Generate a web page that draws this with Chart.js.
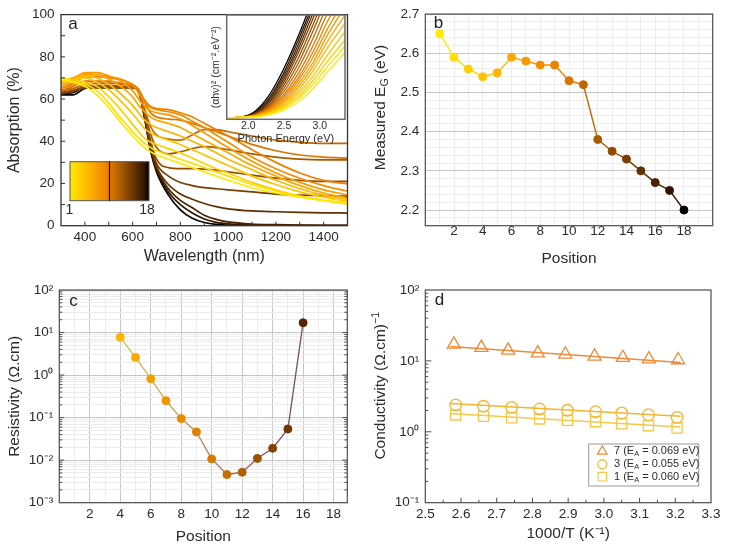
<!DOCTYPE html>
<html><head><meta charset="utf-8">
<script src="https://cdn.jsdelivr.net/npm/chart.js@4.4.1/dist/chart.umd.min.js"></script>
<style>
html,body{margin:0;padding:0;background:#fff;}
body{width:732px;height:551px;position:relative;overflow:hidden;}
.p{position:absolute;}
</style></head><body>
<div class="p" style="left:0;top:0;width:366px;height:275px"><canvas id="ca"></canvas></div>
<div class="p" style="left:205px;top:10px;width:145px;height:140px"><canvas id="ci"></canvas></div>
<div class="p" style="left:366px;top:0;width:366px;height:275px"><canvas id="cb"></canvas></div>
<div class="p" style="left:0;top:275px;width:366px;height:276px"><canvas id="cc"></canvas></div>
<div class="p" style="left:366px;top:275px;width:366px;height:276px"><canvas id="cd"></canvas></div>
<script>
// ---------------- data ----------------
const positions = [1,2,3,4,5,6,7,8,9,10,11,12,13,14,15,16,17,18];
const wavelengths = [300,350,400,450,500,550,600,625,650,675,700,750,800,850,900,950,1000,1100,1200,1300,1400,1500];
const absP1  = [70,68,66,62,56,49,42.5,39.5,37,35,33.5,31.5,29.5,27.5,25.5,23.5,21.5,18,15.5,13.5,12,11];
const absP2  = [69,68,67,64,58,51,44.5,41.5,39,37,35.5,33.5,31.5,29.5,27.5,25.5,23.5,19.5,16.5,14,12,10.2];
const absP3  = [70,69,68,66,61,55,48,44.5,41.5,39.5,38.5,36.5,34.5,32,29.5,27,25,20.5,17,14,12,10.6];
const absP4  = [68,69,70,68,64.5,59,53,49.5,46,44,42.5,40.5,38.5,36,33.5,31,28.5,23.5,19.5,16,13.5,11.6];
const absP5  = [68,70,71,70,67,62.5,57,53.5,50,48,46.5,44.5,42.5,40,37.5,34.5,31.5,26.5,21.5,17.5,14.5,12.6];
const absP6  = [67,70,72,71.5,69.5,66,61,57,54,51.5,50,48.5,46.5,43.5,40.5,37.5,34.5,28.5,23.5,19,15.5,13.2];
const absP7  = [66,69,72.5,72.5,71,68.5,64,60,56.5,54.5,53.5,52.5,50.5,47.5,44,40.5,37,30.5,25,20.5,17,14.6];
const absP8  = [65,68,71.5,71.5,70.5,69.5,66.5,63,58.5,56,55,54,52.5,49.5,46.5,43,39.5,32.5,27,22.5,19,16.3];
const absP9  = [65,67,70.5,70.5,70,69,67,64.5,59.5,56.5,55.5,55,53.5,51.5,48.5,45.5,42.5,36,30,25,21.5,19.8];
const absP10 = [64,66,68.5,68.5,68.5,67.5,66.5,64.5,58.5,53.5,51.5,50.5,50,48.5,46.5,44.5,42.5,38.5,35.5,33.5,32.5,32];
const absP11 = [64,65,67,67.5,67.5,67,66,63.5,55.5,47,43,41,40.5,43,45.5,45.5,44.5,42.5,40.5,39.5,39,39];
const absP12 = [64,65,66.5,66.5,66.5,66,65.5,63.5,54.5,43.5,37,34,35,36.5,37.5,37,36,34,32.5,31.5,31.2,31.2];
const absP13 = [63,64,65.5,65.5,65.5,65.5,65.5,63.5,53.5,40.5,31.5,27.5,27,27,26.8,26.3,25.5,24,22.5,21.5,21,21];
const absP14 = [63,64,65.5,65.5,65.5,65.5,65.5,63.5,53,39,29.5,23.5,20.5,19,18,17.5,17,16,15,14.5,14.2,14];
const absP15 = [63,64,65.5,65.5,65.5,65.5,65.5,63.5,52.5,38,28,19.5,15,12.5,10.5,9,8,7,6.6,6.3,6.1,6];
const absP16 = [62.5,63.5,65.5,65.5,65.5,65.5,65.5,63.5,52,37,27,17.5,12,8.5,5,3,1.8,0.8,0.5,0.3,0.2,0.2];
const absP17 = [62.5,63,65.5,65.5,65.5,65.5,65.5,64,51.5,36.5,26.5,16,10,6,3.2,1.6,0.9,0.4,0.2,0.1,0.1,0.1];
const absP18 = [62,62,65,65.5,65.5,65.5,65.5,64,51,35.5,25.5,14.5,7.5,3.5,1.5,0.6,0.3,0.1,0,0,0,0];
const absorptionSeries = [absP1,absP2,absP3,absP4,absP5,absP6,absP7,absP8,absP9,absP10,absP11,absP12,absP13,absP14,absP15,absP16,absP17,absP18];

const photonEnergy = [1.7,1.9,2.1,2.3,2.5,2.7,2.9,3.1,3.35];
const tP1  = [0.01,0.015,0.022,0.045,0.09,0.17,0.29,0.45,0.64];
const tP2  = [0.01,0.018,0.026,0.055,0.11,0.20,0.33,0.50,0.70];
const tP3  = [0.01,0.02,0.028,0.06,0.12,0.22,0.37,0.55,0.76];
const tP4  = [0.01,0.02,0.03,0.065,0.135,0.25,0.41,0.61,0.84];
const tP5  = [0.01,0.02,0.03,0.07,0.15,0.28,0.46,0.68,0.92];
const tP6  = [0.01,0.02,0.03,0.075,0.165,0.31,0.50,0.74,1.0];
const tP7  = [0.01,0.02,0.035,0.085,0.18,0.34,0.54,0.80,1.08];
const tP8  = [0.01,0.02,0.035,0.09,0.20,0.37,0.59,0.86,1.15];
const tP9  = [0.01,0.02,0.04,0.10,0.22,0.40,0.64,0.93,1.25];
const tP10 = [0.01,0.02,0.04,0.11,0.24,0.44,0.70,1.01,1.35];
const tP11 = [0.01,0.02,0.04,0.12,0.27,0.49,0.77,1.09,1.45];
const tP12 = [0.01,0.02,0.045,0.13,0.30,0.54,0.84,1.17,1.5];
const tP13 = [0.01,0.02,0.05,0.14,0.33,0.59,0.90,1.24,1.6];
const tP14 = [0.01,0.02,0.05,0.16,0.36,0.64,0.96,1.3,1.7];
const tP15 = [0.01,0.02,0.06,0.17,0.39,0.68,1.01,1.35,1.75];
const tP16 = [0.01,0.02,0.06,0.19,0.42,0.72,1.06,1.4,1.8];
const tP17 = [0.01,0.02,0.07,0.21,0.45,0.76,1.10,1.45,1.85];
const tP18 = [0.01,0.02,0.08,0.24,0.49,0.80,1.15,1.5,1.9];
const taucSeries = [tP1,tP2,tP3,tP4,tP5,tP6,tP7,tP8,tP9,tP10,tP11,tP12,tP13,tP14,tP15,tP16,tP17,tP18];

const measuredEg = [2.65,2.59,2.56,2.54,2.55,2.59,2.58,2.57,2.57,2.53,2.52,2.38,2.35,2.33,2.30,2.27,2.25,2.20];

const resistivityPositions = [4,5,6,7,8,9,10,11,12,13,14,15,16];
const resistivity = [7.8,2.6,0.82,0.25,0.095,0.046,0.0107,0.0046,0.0052,0.011,0.019,0.054,17];

const invTemp7  = [2.58,2.657,2.732,2.815,2.892,2.974,3.053,3.126,3.208];
const invTemp31 = [2.585,2.663,2.742,2.82,2.898,2.977,3.05,3.125,3.205];
const cond7 = [17.1,15.4,14.1,12.9,12.4,11.6,11.1,10.6,10.3];
const cond3 = [2.39,2.29,2.21,2.10,2.01,1.92,1.84,1.74,1.60];
const cond1 = [1.73,1.65,1.58,1.52,1.45,1.39,1.30,1.22,1.13];
const fitX = [2.57,3.215];
const fit7 = [15.9,9.5];
const fit3 = [2.50,1.66];
const fit1 = [1.81,1.17];
const legendSamples = ['7','3','1'];
const activationEnergies = ['0.069','0.055','0.060'];

// tick label lists
const wavelengthTicks = [400,600,800,1000,1200,1400];
const absorptionTicks = [0,20,40,60,80,100];
const insetTicks = [2.0,2.5,3.0];
const positionTicks = [2,4,6,8,10,12,14,16,18];
const egTicks = [2.2,2.3,2.4,2.5,2.6,2.7];
const resistivityTicks = [0.001,0.01,0.1,1,10,100];
const invTTicks = [2.5,2.6,2.7,2.8,2.9,3.0,3.1,3.2,3.3];
const condTicks = [0.1,1,10,100];

// ---------------- styles ----------------
const palette = ['#FFEA00','#FFDD00','#FFD000','#FFC300','#FFB600','#FDA800','#F99A00','#F38D00','#EC8000',
                 '#D87400','#C26800','#AA5A00','#924C00','#7A3E00','#613000','#4A2300','#311500','#000000'];
const resPointColors = ['#FFB400','#FAA800','#F59E00','#F09400','#EB8A00','#E48200','#D87800','#C66C00','#B26000','#9C5200','#864400','#6E3600','#562600'];
const resLineColors = ['#CFC24A','#C9B650','#C4A855','#BE9C58','#B8905A','#B0825C','#A8765E','#A06C60','#966262','#8C5A64','#825266','#744A66'];
const c7 = '#EE8A38', c3 = '#F5B431', c1 = '#F6C84A';

const FONT = "'Liberation Sans', Arial, Helvetica, sans-serif";
Chart.defaults.font.family = FONT;
Chart.defaults.color = '#2b2b2b';
Chart.defaults.animation = false;
Chart.defaults.responsive = true;
Chart.defaults.maintainAspectRatio = false;
Chart.defaults.devicePixelRatio = 1;
Chart.defaults.events = [];
Chart.defaults.plugins.legend.display = false;
Chart.defaults.plugins.tooltip.enabled = false;

// ---------------- helpers ----------------
function seq(a, b, step){ const out=[]; const n=Math.round((b-a)/step); for(let i=0;i<=n;i++) out.push(Math.round((a+i*step)*1e6)/1e6); return out; }
function logSeq(e0, e1){ const out=[]; for(let e=e0;e<e1;e++){ for(let m=1;m<10;m++) out.push(Number((m*Math.pow(10,e)).toPrecision(6))); } out.push(Math.pow(10,e1)); return out; }
const isIn = (v, arr) => arr.some(a => Math.abs(a - v) <= 1e-6 * Math.max(Math.abs(a), 1e-9));
const SUP = {'-':'\u207B','0':'\u2070','1':'\u00B9','2':'\u00B2','3':'\u00B3'};
function pow10Label(v){ const e = Math.round(Math.log10(v)); return '10' + String(e).split('').map(ch => SUP[ch]).join(''); }
function tickList(vals){ return s => { s.ticks = vals.map(v => ({value: v})); }; }

function richText(c, parts, x, y, size, rot, align){
  c.save(); c.translate(x, y); if (rot) c.rotate(-Math.PI/2);
  c.textBaseline = 'middle'; c.textAlign = 'left'; c.fillStyle = '#2b2b2b';
  let w = 0;
  parts.forEach(p => { c.font = (p[1] ? size*0.68 : size) + 'px ' + FONT; w += c.measureText(p[0]).width; });
  let cx = align === 'left' ? 0 : -w/2;
  parts.forEach(p => {
    const fs = p[1] ? size*0.68 : size;
    c.font = fs + 'px ' + FONT;
    const dy = p[1] === 'sub' ? size*0.28 : (p[1] === 'sup' ? -size*0.32 : 0);
    c.fillText(p[0], cx, dy);
    cx += c.measureText(p[0]).width;
  });
  c.restore();
}

function decor(o){
  return {
    id: 'decor',
    beforeDatasetsDraw(chart){
      if (!o.bg) return;
      const a = chart.chartArea, c = chart.ctx;
      c.save(); c.fillStyle = o.bg; c.fillRect(a.left, a.top, a.right-a.left, a.bottom-a.top); c.restore();
    },
    afterDraw(chart){
      const c = chart.ctx, a = chart.chartArea;
      c.save();
      c.strokeStyle = o.frame; c.lineWidth = 1;
      (o.inTicks || []).forEach(t => {
        const s = chart.scales[t.axis];
        s.ticks.forEach(tk => {
          const p = s.getPixelForValue(tk.value);
          const L = tk.label ? t.major : t.minor;
          if (!L) return;
          if (t.side === 'bottom' || t.side === 'top') { if (p <= a.left+1 || p >= a.right-1) return; }
          else { if (p <= a.top+1 || p >= a.bottom-1) return; }
          c.beginPath();
          if (t.side === 'bottom') { c.moveTo(p, a.bottom); c.lineTo(p, a.bottom - L); }
          else if (t.side === 'top') { c.moveTo(p, a.top); c.lineTo(p, a.top + L); }
          else if (t.side === 'left') { c.moveTo(a.left, p); c.lineTo(a.left + L, p); }
          else { c.moveTo(a.right, p); c.lineTo(a.right - L, p); }
          c.stroke();
        });
      });
      c.lineWidth = o.frameWidth; c.strokeStyle = o.frame;
      c.strokeRect(a.left, a.top, a.right-a.left, a.bottom-a.top);
      if (o.letter) {
        c.fillStyle = '#222'; c.font = '17px ' + FONT; c.textAlign = 'left'; c.textBaseline = 'middle';
        c.fillText(o.letter, a.left + o.ldx, a.top + o.ldy);
      }
      if (o.extra) o.extra(c, chart);
      c.restore();
    }
  };
}

const noGrid = {display:false, drawTicks:false};
const noBorder = {display:false};

// ---------------- panel a ----------------
new Chart(document.getElementById('ca'), {
  type: 'line',
  data: { datasets: absorptionSeries.map((arr, i) => ({
    label: 'Position ' + positions[i],
    data: wavelengths.map((w, j) => ({x: w, y: arr[j]})),
    borderColor: palette[i], borderWidth: 1.7, pointRadius: 0,
    cubicInterpolationMode: 'monotone', fill: false
  }))},
  options: {
    layout: {padding: {top: 13, right: 18.5, left: 0, bottom: 0}},
    scales: {
      x: {type: 'linear', min: 300, max: 1500, afterBuildTicks: tickList(seq(300,1500,100)),
          ticks: {autoSkip: false, maxRotation: 0, minRotation: 0, padding: 3, font: {size: 13.5},
                  callback: v => isIn(v, wavelengthTicks) ? String(v) : ''},
          grid: noGrid, border: noBorder,
          title: {display: true, text: 'Wavelength (nm)', font: {size: 16}, padding: {top: 0, bottom: 8.5}},
          afterFit: s => { s.height = 49.3; }},
      y: {type: 'linear', min: 0, max: 100, afterBuildTicks: tickList(seq(0,100,10)),
          ticks: {autoSkip: false, padding: 6.5, font: {size: 13.5},
                  callback: v => isIn(v, absorptionTicks) ? String(v) : ''},
          grid: noGrid, border: noBorder,
          title: {display: true, text: 'Absorption (%)', font: {size: 16}, padding: {top: 5.4, bottom: 0}},
          afterFit: s => { s.width = 61; }}
    }
  },
  plugins: [decor({frame: '#333', frameWidth: 1.3, letter: 'a', ldx: 7.3, ldy: 10,
    inTicks: [{axis: 'x', side: 'bottom', major: 4, minor: 4}, {axis: 'y', side: 'left', major: 4, minor: 4}],
    extra: (c) => {
      const x0 = 70, x1 = 149, y0 = 161.7, y1 = 200.7;
      const g = c.createLinearGradient(x0, 0, x1, 0);
      palette.forEach((col, i) => g.addColorStop(i / (palette.length - 1), col));
      c.fillStyle = g; c.fillRect(x0, y0, x1 - x0, y1 - y0);
      c.strokeStyle = '#555'; c.lineWidth = 1; c.strokeRect(x0, y0, x1 - x0, y1 - y0);
      c.strokeStyle = '#111'; c.lineWidth = 1.2;
      c.beginPath(); c.moveTo((x0 + x1) / 2, y0); c.lineTo((x0 + x1) / 2, y1); c.stroke();
      c.fillStyle = '#2b2b2b'; c.font = '14px ' + FONT; c.textBaseline = 'middle'; c.textAlign = 'center';
      c.fillText(String(positions[0]), 69.5, 210.5);
      c.fillText(String(positions[positions.length - 1]), 147, 210.5);
    }})]
});

// ---------------- inset ----------------
new Chart(document.getElementById('ci'), {
  type: 'line',
  data: { datasets: taucSeries.map((arr, i) => ({
    label: 'Position ' + positions[i],
    data: photonEnergy.map((e, j) => ({x: e, y: arr[j]})),
    borderColor: palette[i], borderWidth: 1.3, pointRadius: 0,
    cubicInterpolationMode: 'monotone', fill: false
  }))},
  options: {
    layout: {padding: {top: 5, right: 5, left: 0, bottom: 0}},
    scales: {
      x: {type: 'linear', min: 1.7, max: 3.35, afterBuildTicks: tickList(insetTicks),
          ticks: {autoSkip: false, maxRotation: 0, minRotation: 0, padding: 1, font: {size: 10.5},
                  callback: v => v.toFixed(1)},
          grid: noGrid, border: noBorder,
          title: {display: true, text: 'Photon Energy (eV)', font: {size: 11}, padding: {top: 0, bottom: 4.5}},
          afterFit: s => { s.height = 30.7; }},
      y: {type: 'linear', min: 0, max: 1, ticks: {display: false}, grid: noGrid, border: noBorder,
          title: {display: true, text: '(\u03B1h\u03BD)\u00B2 (cm\u207B\u00B2.eV\u207B\u00B2)', font: {size: 10.5}, padding: {top: 5, bottom: 0}},
          afterFit: s => { s.width = 21.7; }}
    }
  },
  plugins: [decor({frame: '#6a6a6a', frameWidth: 1.5, bg: '#ffffff'})]
});

// ---------------- panel b ----------------
new Chart(document.getElementById('cb'), {
  type: 'line',
  data: { datasets: [{
    label: 'Measured EG',
    data: positions.map((p, i) => ({x: p, y: measuredEg[i]})),
    borderWidth: 1.4, borderColor: palette[8],
    segment: {borderColor: ctx => palette[ctx.p0DataIndex]},
    pointRadius: 4, pointBackgroundColor: palette, pointBorderColor: palette, pointBorderWidth: 1, tension: 0
  }]},
  options: {
    layout: {padding: {top: 13.3, right: 19.3, left: 0, bottom: 0}},
    scales: {
      x: {type: 'linear', min: 0, max: 20, afterBuildTicks: tickList(seq(0,20,1)),
          ticks: {autoSkip: false, maxRotation: 0, minRotation: 0, padding: -3, font: {size: 13.5},
                  callback: v => isIn(v, positionTicks) ? String(v) : ''},
          grid: {color: '#ececec', drawTicks: false}, border: noBorder,
          title: {display: true, text: 'Position', font: {size: 15.5}, padding: {top: 0, bottom: 7.4}},
          afterFit: s => { s.height = 49.3; }},
      y: {type: 'linear', min: 2.16, max: 2.7, afterBuildTicks: tickList(seq(2.16,2.7,0.02)),
          ticks: {autoSkip: false, padding: 6, font: {size: 13.5},
                  callback: v => isIn(v, egTicks) ? v.toFixed(1) : ''},
          grid: {color: ctx => isIn(ctx.tick.value, egTicks) ? '#c6c6c6' : '#eeeeee', drawTicks: false}, border: noBorder,
          afterFit: s => { s.width = 59.3; }}
    }
  },
  plugins: [decor({frame: '#4d4d4d', frameWidth: 1.2, letter: 'b', ldx: 8.4, ldy: 9.5,
    extra: (c) => richText(c, [['Measured E'], ['G', 'sub'], [' (eV)']], 15, 107.5, 15.5, true)})]
});

// ---------------- panel c ----------------
new Chart(document.getElementById('cc'), {
  type: 'line',
  data: { datasets: [{
    label: 'Resistivity',
    data: resistivityPositions.map((p, i) => ({x: p, y: resistivity[i]})),
    borderWidth: 1.3, borderColor: resLineColors[0],
    segment: {borderColor: ctx => resLineColors[ctx.p0DataIndex]},
    pointRadius: 4, pointBackgroundColor: resPointColors, pointBorderColor: resPointColors, pointBorderWidth: 1, tension: 0
  }]},
  options: {
    layout: {padding: {top: 15, right: 18.7, left: 0, bottom: 0}},
    scales: {
      x: {type: 'linear', min: 0, max: 18.9, afterBuildTicks: tickList(seq(0,18,1)),
          ticks: {autoSkip: false, maxRotation: 0, minRotation: 0, padding: 3.2, font: {size: 13.5},
                  callback: v => isIn(v, positionTicks) ? String(v) : ''},
          grid: {color: ctx => isIn(ctx.tick.value, positionTicks) ? '#c6c6c6' : '#ececec', drawTicks: false}, border: noBorder,
          title: {display: true, text: 'Position', font: {size: 15.5}, padding: {top: 0, bottom: 5}},
          afterFit: s => { s.height = 48.3; }},
      y: {type: 'logarithmic', min: 0.001, max: 100, afterBuildTicks: tickList(logSeq(-3, 2)),
          ticks: {autoSkip: false, padding: 6, font: {size: 13.5},
                  callback: v => isIn(v, resistivityTicks) ? pow10Label(v) : ''},
          grid: {color: ctx => isIn(ctx.tick.value, resistivityTicks) ? '#c6c6c6' : '#ececec', drawTicks: false}, border: noBorder,
          title: {display: true, text: 'Resistivity (\u03A9.cm)', font: {size: 15.5}, padding: {top: 5.7, bottom: 0}},
          afterFit: s => { s.width = 59.3; }}
    }
  },
  plugins: [decor({frame: '#4d4d4d', frameWidth: 1.2, letter: 'c', ldx: 10, ldy: 11.7,
    inTicks: [{axis: 'y', side: 'right', major: 5, minor: 3}, {axis: 'y', side: 'left', major: 5, minor: 3}]})]
});

// ---------------- panel d ----------------
new Chart(document.getElementById('cd'), {
  type: 'line',
  data: { datasets: [
    {label: 'fit 7', data: fitX.map((x, i) => ({x, y: fit7[i]})), borderColor: c7, borderWidth: 1.5, pointRadius: 0},
    {label: 'fit 3', data: fitX.map((x, i) => ({x, y: fit3[i]})), borderColor: c3, borderWidth: 1.5, pointRadius: 0},
    {label: 'fit 1', data: fitX.map((x, i) => ({x, y: fit1[i]})), borderColor: c1, borderWidth: 1.5, pointRadius: 0},
    {label: '7', data: invTemp7.map((x, i) => ({x, y: cond7[i]})), showLine: false, pointStyle: 'triangle', pointRadius: 7.5,
     pointBorderColor: c7, pointBackgroundColor: 'rgba(0,0,0,0)', pointBorderWidth: 1.3},
    {label: '3', data: invTemp31.map((x, i) => ({x, y: cond3[i]})), showLine: false, pointStyle: 'circle', pointRadius: 5.8,
     pointBorderColor: c3, pointBackgroundColor: 'rgba(0,0,0,0)', pointBorderWidth: 1.3},
    {label: '1', data: invTemp31.map((x, i) => ({x, y: cond1[i]})), showLine: false, pointStyle: 'rect', pointRadius: 7.2,
     pointBorderColor: c1, pointBackgroundColor: 'rgba(0,0,0,0)', pointBorderWidth: 1.3}
  ]},
  options: {
    layout: {padding: {top: 15, right: 21, left: 0, bottom: 0}},
    scales: {
      x: {type: 'linear', min: 2.5, max: 3.3, afterBuildTicks: tickList(seq(2.5,3.3,0.05)),
          ticks: {autoSkip: false, maxRotation: 0, minRotation: 0, padding: 3.9, font: {size: 13.5},
                  callback: v => isIn(v, invTTicks) ? v.toFixed(1) : ''},
          grid: noGrid, border: noBorder,
          title: {display: true, text: '1000/T (K\u207B\u00B9)', font: {size: 15.5}, padding: {top: 0, bottom: 8.4}},
          afterFit: s => { s.height = 48.3; }},
      y: {type: 'logarithmic', min: 0.1, max: 100, afterBuildTicks: tickList(logSeq(-1, 2)),
          ticks: {autoSkip: false, padding: 6, font: {size: 13.5},
                  callback: v => isIn(v, condTicks) ? pow10Label(v) : ''},
          grid: noGrid, border: noBorder,
          afterFit: s => { s.width = 59.3; }}
    }
  },
  plugins: [decor({frame: '#4d4d4d', frameWidth: 1.2, letter: 'd', ldx: 9.4, ldy: 10.8,
    inTicks: [{axis: 'x', side: 'bottom', major: 5, minor: 3}, {axis: 'y', side: 'left', major: 6, minor: 3}],
    extra: (c) => {
      richText(c, [['Conductivity (\u03A9.cm)'], ['\u22121', 'sup']], 15, 110.8, 15.5, true);
      // legend
      const bx = 222.7, by = 169, bw = 110, bh = 42;
      c.fillStyle = '#fff'; c.fillRect(bx, by, bw, bh);
      c.strokeStyle = '#9a9a9a'; c.lineWidth = 1; c.strokeRect(bx, by, bw, bh);
      const rows = [176.3, 189.3, 201.7], cols = [c7, c3, c1];
      rows.forEach((ry, i) => {
        const mx = 236.3;
        c.strokeStyle = cols[i]; c.lineWidth = 1.2; c.beginPath();
        if (i === 0) { const r = 5.6; c.moveTo(mx, ry - r); c.lineTo(mx + r*0.866, ry + r/2); c.lineTo(mx - r*0.866, ry + r/2); c.closePath(); }
        else if (i === 1) { c.arc(mx, ry, 4.5, 0, Math.PI*2); }
        else { c.rect(mx - 4.3, ry - 4.3, 8.6, 8.6); }
        c.stroke();
        richText(c, [[legendSamples[i] + ' (E'], ['A', 'sub'], [' = ' + activationEnergies[i] + ' eV)']], 248, ry, 11, false, 'left');
      });
    }})]
});
</script>
</body></html>
